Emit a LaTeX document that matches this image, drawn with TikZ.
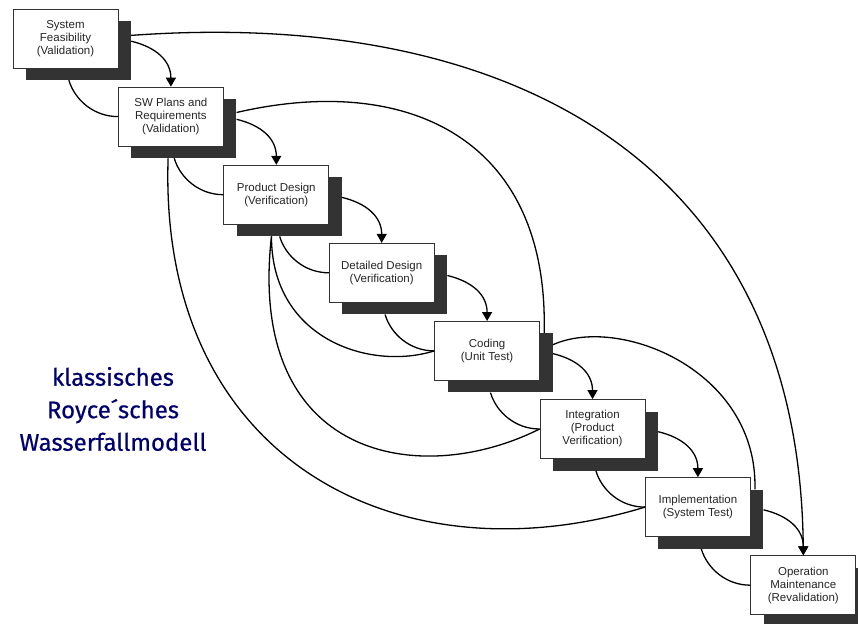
\documentclass[tikz,border=0pt]{standalone}
\usepackage{fontspec}
\setmainfont{Liberation Sans}
\newfontfamily\titlefont[FakeBold=0.6]{Fira Sans}
\usetikzlibrary{arrows.meta}
\definecolor{shade}{RGB}{51,51,51}
\definecolor{royceblue}{RGB}{0,0,110}

\begin{document}
\begin{tikzpicture}[x=1pt,y=-1pt,
  font=\fontsize{11.5}{13}\selectfont,
  phase/.style={draw=black!80,line width=.8pt,fill=white,text=black!85,
                minimum width=105pt,minimum height=59pt,inner sep=0pt,align=center},
  shadow/.style={fill=shade,minimum width=105pt,minimum height=59pt,inner sep=0pt},
  flow/.style={line width=1.3pt},
  arr/.style={flow,-{Triangle[length=9pt,width=10pt]}}]
\useasboundingbox (0,0) rectangle (858,623);

% phases down the cascade, each with its offset shadow
\foreach \i/\txt in {
  1/System\\Feasibility\\(Validation),
  2/SW Plans and\\Requirements\\(Validation),
  3/Product Design\\(Verification),
  4/Detailed Design\\(Verification),
  5/Coding\\(Unit Test),
  6/Integration\\(Product\\Verification),
  7/Implementation\\(System Test),
  8/Operation\\Maintenance\\(Revalidation)}{
  \pgfmathsetmacro{\xc}{65.5+105.4*(\i-1)}
  \pgfmathsetmacro{\yc}{38.5+78.1*(\i-1)}
  \node[shadow] (sh\i) at (\xc+13,\yc+12) {};
  \node[phase] (ph\i) at (\xc,\yc) {\txt};
}

% step to the next phase, and the short way back
\foreach \i in {1,...,7}{
  \pgfmathtruncatemacro{\j}{\i+1}
  \draw[arr] (sh\i.10) .. controls +(25,6) and +(0,-26) .. (ph\j.north);
  \draw[flow] (sh\i.-108) .. controls +(6,20) and +(-24,0) .. (ph\j.west);
}

% long loops over the top
\draw[arr] (sh1.16) .. controls +(389,-28) and +(-3.5,-386) .. (ph8.north);
\draw[flow] (sh2.17) .. controls +(173,-40) and +(5,-193) .. (sh5.34);
\draw[flow] (sh5.19) .. controls +(67,-30) and +(3,-119) .. (sh7.34);
% long returns underneath
\draw[flow] (sh2.-118) .. controls +(-10,300) and +(-249,76) .. (ph7.west);
\draw[flow] (sh3.-121) .. controls +(-25,223) and +(-120,60) .. (ph6.west);
\draw[flow] (sh3.-121) .. controls +(0,103) and +(-64,20) .. (ph5.west);

\node[font=\titlefont\fontsize{24}{32.5}\selectfont,text=royceblue,align=center]
  (title) at (113,409) {klassisches\\Royce´sches\\Wasserfallmodell};
\end{tikzpicture}
\end{document}
